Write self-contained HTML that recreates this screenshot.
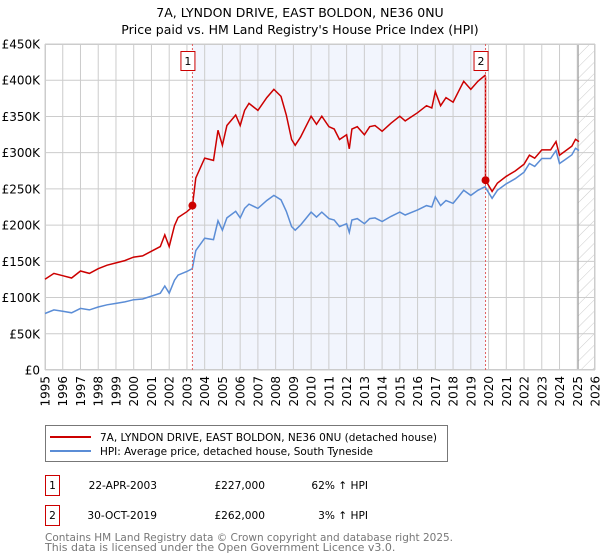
<!DOCTYPE html>
<html><head><meta charset="utf-8"><style>
body{margin:0;background:#fff;font-family:"DejaVu Sans","Liberation Sans",sans-serif;}
#wrap{position:relative;width:600px;height:560px;overflow:hidden;}
</style></head><body>
<div id="wrap">
<svg id="svg" width="600" height="560" xmlns="http://www.w3.org/2000/svg" font-family="'DejaVu Sans','Liberation Sans',sans-serif">
<defs>
<pattern id="hatch" width="8" height="8" patternUnits="userSpaceOnUse" patternTransform="rotate(45)">
<line x1="0" y1="0" x2="0" y2="8" stroke="#ccc" stroke-width="1"/>
</pattern>
</defs>
<text x="300" y="17" text-anchor="middle" font-size="12.5" fill="#000">7A, LYNDON DRIVE, EAST BOLDON, NE36 0NU</text>
<text x="300" y="34" text-anchor="middle" font-size="12.5" fill="#000">Price paid vs. HM Land Registry's House Price Index (HPI)</text>
<g id="plot"></g>
<g>
<rect x="45.5" y="425.5" width="402" height="36" fill="#fff" stroke="#777"/>
<line x1="50" y1="437" x2="91" y2="437" stroke="#cc0000" stroke-width="2"/>
<text x="100" y="441" font-size="10.6" textLength="337" lengthAdjust="spacingAndGlyphs">7A, LYNDON DRIVE, EAST BOLDON, NE36 0NU (detached house)</text>
<line x1="50" y1="451" x2="91" y2="451" stroke="#5b8dd6" stroke-width="2"/>
<text x="100" y="455" font-size="10.6" textLength="273" lengthAdjust="spacingAndGlyphs">HPI: Average price, detached house, South Tyneside</text>
</g>
<g font-size="10.6">
<rect x="45.5" y="475.5" width="14" height="20" fill="#fff" stroke="#cc0000"/>
<text x="52.5" y="489" text-anchor="middle">1</text>
<text x="157" y="489" text-anchor="end">22-APR-2003</text>
<text x="265" y="489" text-anchor="end">£227,000</text>
<text x="368" y="489" text-anchor="end">62% ↑ HPI</text>
<rect x="45.5" y="505.5" width="14" height="20" fill="#fff" stroke="#cc0000"/>
<text x="52.5" y="519" text-anchor="middle">2</text>
<text x="157" y="519" text-anchor="end">30-OCT-2019</text>
<text x="265" y="519" text-anchor="end">£262,000</text>
<text x="368" y="519" text-anchor="end">3% ↑ HPI</text>
</g>
<text x="45" y="541" font-size="11" fill="#777" textLength="408" lengthAdjust="spacingAndGlyphs">Contains HM Land Registry data © Crown copyright and database right 2025.</text>
<text x="45" y="551" font-size="11" fill="#777">This data is licensed under the Open Government Licence v3.0.</text>
</svg>
</div>
<script>
const hpiYears=[1995,1995.5,1996,1996.5,1997,1997.5,1998,1998.5,1999,1999.5,2000,2000.5,2001,2001.5,2001.75,2002,2002.3,2002.5,2003,2003.3,2003.5,2004,2004.5,2004.75,2005,2005.25,2005.75,2006,2006.25,2006.5,2007,2007.5,2007.9,2008.3,2008.6,2008.9,2009.1,2009.4,2009.7,2010,2010.3,2010.6,2011,2011.3,2011.6,2012,2012.15,2012.3,2012.6,2013,2013.3,2013.6,2014,2014.5,2015,2015.3,2015.6,2016,2016.5,2016.8,2017,2017.3,2017.6,2018,2018.3,2018.6,2019,2019.4,2019.8,2020.2,2020.5,2021,2021.5,2022,2022.3,2022.6,2023,2023.5,2023.8,2024,2024.3,2024.7,2024.9,2025.1];
const hpiValues=[78,83,81,79,85,83,87,90,92,94,97,98,102,106,116,106,124,131,136,140,165,182,180,206,193,210,219,210,223,229,223,234,241,235,219,198,193,200,209,218,211,218,209,207,198,202,190,207,209,202,209,210,205,212,218,214,217,221,227,225,239,227,234,230,239,248,241,248,253,237,248,257,264,273,285,281,292,292,303,285,290,297,306,303];
const sales=[{t:2003.31,price:227,label:"1"},{t:2019.83,price:262,label:"2"}];
const yTicks=[0,50,100,150,200,250,300,350,400,450];
const yTickLabels=["£0","£50K","£100K","£150K","£200K","£250K","£300K","£350K","£400K","£450K"];
const xYears=[1995,1996,1997,1998,1999,2000,2001,2002,2003,2004,2005,2006,2007,2008,2009,2010,2011,2012,2013,2014,2015,2016,2017,2018,2019,2020,2021,2022,2023,2024,2025,2026];

const L=45,R=595,T=44,B=370,X0=1995,X1=2026,YMAX=450,DATA_END=2025.05;
const xs=t=>L+(t-X0)/(X1-X0)*(R-L);
const ys=v=>B-v/YMAX*(B-T);
const NS="http://www.w3.org/2000/svg";
const g=document.getElementById('plot');
function mk(tag,attrs,parent){const e=document.createElementNS(NS,tag);for(const k in attrs)e.setAttribute(k,attrs[k]);(parent||g).appendChild(e);return e;}
function hpiAt(t){for(let i=0;i<hpiYears.length-1;i++){if(t>=hpiYears[i]&&t<=hpiYears[i+1]){const f=(t-hpiYears[i])/(hpiYears[i+1]-hpiYears[i]);return hpiValues[i]+f*(hpiValues[i+1]-hpiValues[i]);}}return hpiValues[hpiValues.length-1];}

let e=mk('rect',{x:xs(sales[0].t),y:T,width:xs(sales[1].t)-xs(sales[0].t),height:B-T,fill:'#f2f5fd'});


e=mk('rect',{x:xs(DATA_END),y:T,width:R-xs(DATA_END),height:B-T,fill:'url(#hatch)'});


xYears.forEach(y=>{const l=mk('line',{x1:xs(y),x2:xs(y),y1:T,y2:B,stroke:'#cccccc','stroke-width':1});


const tx=mk('text',{transform:`translate(${xs(y)+4.5},376) rotate(-90)`,'text-anchor':'end','font-size':12,fill:'#000'});tx.textContent=y;

});
yTicks.forEach((v,i)=>{const l=mk('line',{x1:L,x2:R,y1:ys(v),y2:ys(v),stroke:'#cccccc','stroke-width':1});


const tx=mk('text',{x:40,y:ys(v)+4.5,'text-anchor':'end','font-size':12,fill:'#000'});tx.textContent=yTickLabels[i];

});
e=mk('line',{x1:xs(DATA_END),x2:xs(DATA_END),y1:T,y2:B,stroke:'#999','stroke-width':1});


e=mk('rect',{x:L+0.5,y:T+0.5,width:R-L-1,height:B-T-1,fill:'none',stroke:'#cccccc'});



let d=hpiYears.map((t,i)=>(i?'L':'M')+xs(t).toFixed(1)+','+ys(hpiValues[i]).toFixed(1)).join('');
e=mk('path',{d:d,fill:'none',stroke:'#5b8dd6','stroke-width':1.5});


const r1=sales[0].price/hpiAt(sales[0].t), r2=sales[1].price/hpiAt(sales[1].t);
let pts=[];
hpiYears.forEach((t,i)=>{if(t<sales[1].t)pts.push([t,hpiValues[i]*r1]);});
pts.push([sales[1].t,hpiAt(sales[1].t)*r1]);
pts.push([sales[1].t,sales[1].price]);
hpiYears.forEach((t,i)=>{if(t>sales[1].t)pts.push([t,hpiValues[i]*r2]);});
d=pts.map((p,i)=>(i?'L':'M')+xs(p[0]).toFixed(1)+','+ys(p[1]).toFixed(1)).join('');
e=mk('path',{d:d,fill:'none',stroke:'#cc0000','stroke-width':1.5});


sales.forEach(s=>{
const l=mk('line',{x1:xs(s.t),x2:xs(s.t),y1:T,y2:B,stroke:'#e06060','stroke-width':1,'stroke-dasharray':'2,2'});


const c=mk('circle',{cx:xs(s.t),cy:ys(s.price),r:4,fill:'#cc0000'});


const b=mk('rect',{x:xs(s.t)-11.5,y:51.5,width:14,height:19,fill:'#fff',stroke:'#cc0000'});


const tx=mk('text',{x:xs(s.t)-4.5,y:65,'text-anchor':'middle','font-size':11});tx.textContent=s.label;


});
</script>
</body></html>
